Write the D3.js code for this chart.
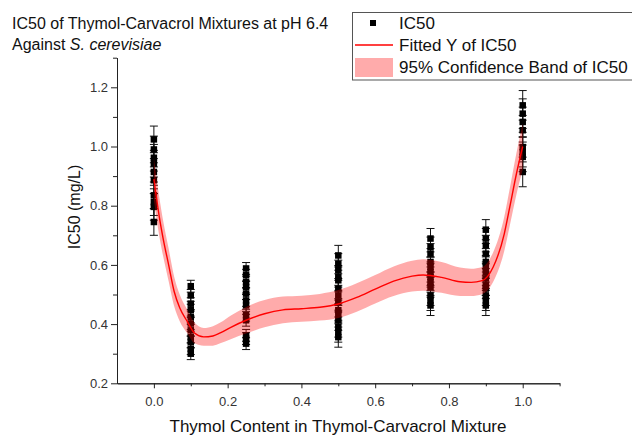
<!DOCTYPE html>
<html>
<head>
<meta charset="utf-8">
<script src="https://cdn.jsdelivr.net/npm/d3@7"></script>
<style>
body{margin:0;background:#fff;}
svg{font-family:Arial,"Liberation Sans",sans-serif;}
</style>
</head>
<body>
<svg id="myGraph" width="632" height="437"></svg>
<script>
// thymol fraction of each measured mixture
var xGroups = [0, 0.1, 0.25, 0.5, 0.75, 0.9, 1.0];
// IC50 replicates for each mixture (mg/L)
var ic50Values = [
	[1.024, 0.99, 0.962, 0.942, 0.914, 0.886, 0.835, 0.812, 0.796, 0.745],
	[0.528, 0.497, 0.469, 0.447, 0.424, 0.402, 0.379, 0.356, 0.34, 0.317, 0.30],
	[0.588, 0.565, 0.542, 0.525, 0.503, 0.48, 0.463, 0.43, 0.413, 0.362, 0.351, 0.334],
	[0.632, 0.604, 0.582, 0.559, 0.548, 0.52, 0.497, 0.475, 0.447, 0.435, 0.413, 0.39, 0.373, 0.356],
	[0.689, 0.66, 0.638, 0.61, 0.593, 0.576, 0.559, 0.542, 0.525, 0.497, 0.48, 0.463],
	[0.719, 0.689, 0.666, 0.638, 0.61, 0.593, 0.576, 0.554, 0.531, 0.52, 0.497, 0.48, 0.463],
	[1.139, 1.111, 1.083, 1.055, 0.998, 0.981, 0.965, 0.914]
];
// error bar size of each mixture
var ic50Err = [0.045, 0.02, 0.02, 0.034, 0.034, 0.034, 0.05];

// fitted curve + 95% confidence band
var fitX = [0, 0.015, 0.025, 0.04, 0.055, 0.07, 0.09, 0.11, 0.135, 0.16, 0.18, 0.21, 0.25, 0.3, 0.35, 0.4,
	0.45, 0.5, 0.55, 0.6, 0.65, 0.7, 0.73, 0.78, 0.83, 0.86, 0.89, 0.92, 0.95, 0.965, 0.983, 1.0];
var fitY = [0.89, 0.76, 0.69, 0.60, 0.51, 0.455, 0.41, 0.37, 0.357, 0.36, 0.37, 0.39, 0.413, 0.435, 0.448, 0.452,
	0.457, 0.468, 0.49, 0.518, 0.545, 0.562, 0.566, 0.558, 0.543, 0.541, 0.547, 0.593, 0.705, 0.796, 0.908, 1.0];
var bandLow = [0.82, 0.695, 0.63, 0.545, 0.46, 0.41, 0.37, 0.335, 0.327, 0.327, 0.335, 0.35, 0.368, 0.389, 0.403, 0.408,
	0.412, 0.421, 0.442, 0.47, 0.495, 0.51, 0.513, 0.506, 0.495, 0.495, 0.501, 0.543, 0.647, 0.733, 0.838, 0.922];
var bandHigh = [0.96, 0.825, 0.75, 0.655, 0.56, 0.50, 0.45, 0.405, 0.387, 0.393, 0.405, 0.43, 0.458, 0.481, 0.493, 0.496,
	0.502, 0.515, 0.538, 0.566, 0.595, 0.614, 0.619, 0.61, 0.591, 0.587, 0.593, 0.643, 0.763, 0.859, 0.978, 1.078];

var xMajor = [0, 0.2, 0.4, 0.6, 0.8, 1.0];
var xMinor = [0.1, 0.3, 0.5, 0.7, 0.9, 1.1];
var yMajor = [0.2, 0.4, 0.6, 0.8, 1.0, 1.2];
var yMinor = [0.3, 0.5, 0.7, 0.9, 1.1, 1.3];

var svg = d3.select("#myGraph");

var x = d3.scaleLinear().domain([-0.1, 1.1]).range([117, 559.6]);
var y = d3.scaleLinear().domain([0.2, 1.3]).range([383.3, 57.7]);

// flatten points
var points = [];
xGroups.forEach(function(gx, i){
	ic50Values[i].forEach(function(v){
		points.push({x: gx, y: v, e: ic50Err[i]});
	});
});

// error bars
var eb = svg.append("g").attr("stroke", "#111").attr("stroke-width", 1);
eb.selectAll("line.v").data(points).enter().append("line")
	.attr("x1", function(d){ return x(d.x); })
	.attr("x2", function(d){ return x(d.x); })
	.attr("y1", function(d){ return y(d.y - d.e); })
	.attr("y2", function(d){ return y(d.y + d.e); });
eb.selectAll("line.t").data(points).enter().append("line")
	.attr("x1", function(d){ return x(d.x) - 4; })
	.attr("x2", function(d){ return x(d.x) + 4; })
	.attr("y1", function(d){ return y(d.y + d.e); })
	.attr("y2", function(d){ return y(d.y + d.e); });
eb.selectAll("line.b").data(points).enter().append("line")
	.attr("x1", function(d){ return x(d.x) - 4; })
	.attr("x2", function(d){ return x(d.x) + 4; })
	.attr("y1", function(d){ return y(d.y - d.e); })
	.attr("y2", function(d){ return y(d.y - d.e); });

// squares
svg.append("g").selectAll("rect").data(points).enter().append("rect")
	.attr("x", function(d){ return x(d.x) - 3.25; })
	.attr("y", function(d){ return y(d.y) - 3.25; })
	.attr("width", 6.5).attr("height", 6.5)
	.attr("fill", "#000");

// confidence band (over the points)
var bandData = fitX.map(function(v, i){ return {x: v, lo: bandLow[i], hi: bandHigh[i], f: fitY[i]}; });
var area = d3.area()
	.x(function(d){ return x(d.x); })
	.y0(function(d){ return y(d.lo); })
	.y1(function(d){ return y(d.hi); })
	.curve(d3.curveMonotoneX);
svg.append("path").datum(bandData).attr("d", area)
	.attr("fill", "#ff0000").attr("fill-opacity", 0.33);

var line = d3.line()
	.x(function(d){ return x(d.x); })
	.y(function(d){ return y(d.f); })
	.curve(d3.curveMonotoneX);
svg.append("path").datum(bandData).attr("d", line)
	.attr("fill", "none").attr("stroke", "#ff0000").attr("stroke-width", 1.4);

// axes
var fmt = d3.format(".1f");
var xAxis = svg.append("g").attr("transform", "translate(0,383.3)")
	.call(d3.axisBottom(x).tickValues(xMajor).tickFormat(fmt).tickSize(5).tickSizeOuter(0));
svg.append("g").attr("transform", "translate(0,383.3)")
	.call(d3.axisBottom(x).tickValues(xMinor).tickFormat("").tickSize(3).tickSizeOuter(0));
var yAxis = svg.append("g").attr("transform", "translate(117,0)")
	.call(d3.axisLeft(y).tickValues(yMajor).tickFormat(fmt).tickSize(6).tickSizeOuter(0));
svg.append("g").attr("transform", "translate(117,0)")
	.call(d3.axisLeft(y).tickValues(yMinor).tickFormat("").tickSize(4).tickSizeOuter(0));
svg.selectAll(".domain, .tick line").attr("stroke", "#222");
svg.selectAll(".tick text").attr("fill", "#333").style("font-size", "13px").style("font-family", "Arial, 'Liberation Sans', sans-serif");
xAxis.selectAll(".tick text").attr("dy", "1.1em");

// axis titles
svg.append("text").attr("x", 338).attr("y", 432).attr("text-anchor", "middle")
	.style("font-size", "17px").attr("fill", "#111")
	.text("Thymol Content in Thymol-Carvacrol Mixture");
svg.append("text").attr("transform", "translate(80,207) rotate(-90)").attr("text-anchor", "middle")
	.style("font-size", "16px").attr("fill", "#111")
	.text("IC50 (mg/L)");

// chart title
var title = svg.append("text").attr("x", 12).attr("y", 29).style("font-size", "16px").attr("fill", "#111");
title.append("tspan").text("IC50 of Thymol-Carvacrol Mixtures at pH 6.4");
var title2 = svg.append("text").attr("x", 12).attr("y", 50).style("font-size", "16px").attr("fill", "#111");
title2.append("tspan").text("Against ");
title2.append("tspan").style("font-style", "italic").text("S. cerevisiae");

// legend
var lg = svg.append("g");
lg.append("rect").attr("x", 352.5).attr("y", 12.5).attr("width", 300).attr("height", 67.5)
	.attr("fill", "#fff").attr("stroke", "#555");
lg.append("rect").attr("x", 370).attr("y", 20).attr("width", 6).attr("height", 6).attr("fill", "#000");
lg.append("line").attr("x1", 355).attr("x2", 393).attr("y1", 45).attr("y2", 45)
	.attr("stroke", "#ff0000").attr("stroke-width", 1.4);
lg.append("rect").attr("x", 355).attr("y", 58).attr("width", 38).attr("height", 19)
	.attr("fill", "#ff0000").attr("fill-opacity", 0.33);
var legendLabels = ["IC50", "Fitted Y of IC50", "95% Confidence Band of IC50"];
lg.selectAll("text.lab").data(legendLabels).enter().append("text")
	.attr("x", 399).attr("y", function(d, i){ return 29 + i * 22; })
	.style("font-size", "17px").attr("fill", "#111")
	.text(function(d){ return d; });
</script>
</body>
</html>
